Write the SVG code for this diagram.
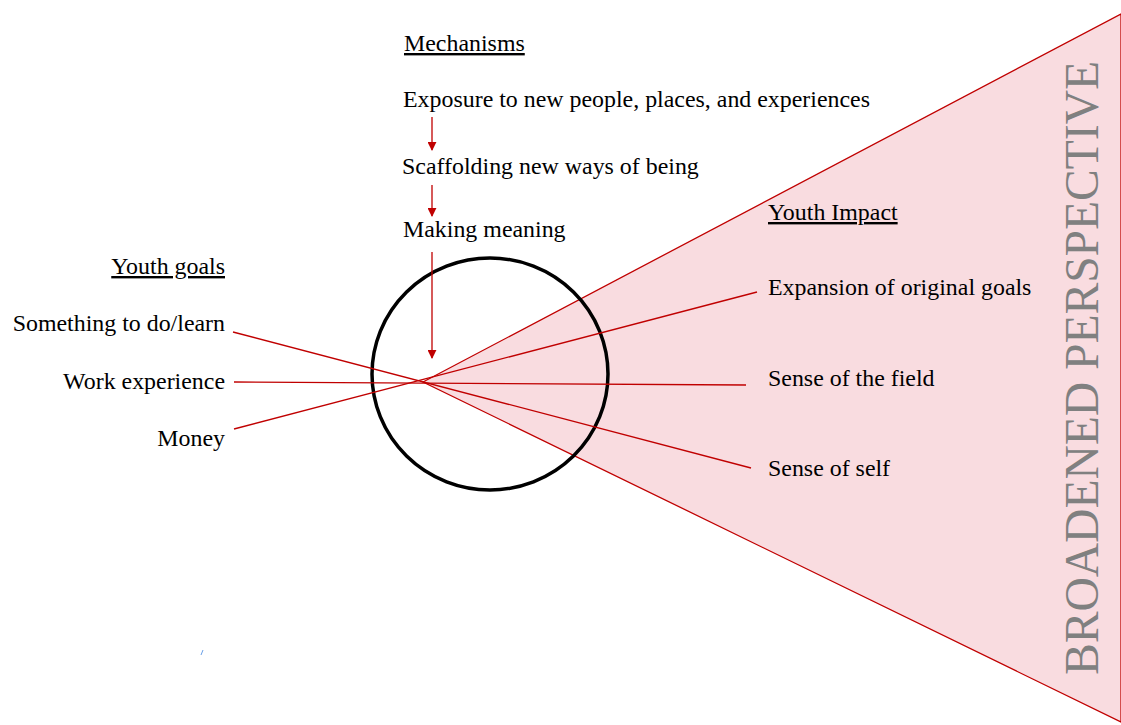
<svg xmlns="http://www.w3.org/2000/svg" width="1121" height="725" viewBox="0 0 1121 725">
<style>
text{font-family:"Liberation Serif","Times New Roman",serif;font-size:23.9px;fill:#000}
.u{text-decoration:underline}
.r{text-anchor:end}
.c{stroke:#c00000;stroke-width:1.3;fill:none}
.big{font-size:48px;fill:#808080}
</style>
<defs>
<marker id="ah" viewBox="0 0 10 10" refX="9" refY="5" markerWidth="9" markerHeight="9" markerUnits="userSpaceOnUse" orient="auto">
<path d="M0,0 L10,5 L0,10 z" fill="#c00000"/>
</marker>
</defs>
<rect width="1121" height="725" fill="#fff"/>
<g id="perspective">
<polygon points="423,382 1121,14 1121,722" fill="#f9dce0" stroke="#c00000" stroke-width="1.3"/>
<text class="big" transform="translate(1098,675) rotate(-90)" textLength="614" lengthAdjust="spacingAndGlyphs">BROADENED PERSPECTIVE</text>
</g>
<g id="circle">
<ellipse cx="490" cy="374" rx="118" ry="116" fill="none" stroke="#000" stroke-width="3.5"/>
</g>
<g id="mechanisms">
<text class="u" x="404" y="51">Mechanisms</text>
<text x="403" y="107">Exposure to new people, places, and experiences</text>
<text x="402" y="174">Scaffolding new ways of being</text>
<text x="403" y="237">Making meaning</text>
</g>
<g id="goals">
<text class="u r" x="225" y="274">Youth goals</text>
<text class="r" x="225" y="331">Something to do/learn</text>
<text class="r" x="225" y="389">Work experience</text>
<text class="r" x="225" y="446">Money</text>
</g>
<g id="impact">
<text class="u" x="768" y="220">Youth Impact</text>
<text x="768" y="295">Expansion of original goals</text>
<text x="768" y="386">Sense of the field</text>
<text x="768" y="476">Sense of self</text>
</g>
<g id="connectors">
<line class="c" x1="432" y1="117" x2="432" y2="150" marker-end="url(#ah)"/>
<line class="c" x1="432" y1="185" x2="432" y2="216" marker-end="url(#ah)"/>
<line class="c" x1="432" y1="252" x2="432" y2="358" marker-end="url(#ah)"/>
<line class="c" x1="233" y1="332" x2="751" y2="468"/>
<line class="c" x1="234" y1="382" x2="746" y2="385"/>
<line class="c" x1="234" y1="429" x2="757" y2="292"/>
</g>
<line x1="201" y1="655" x2="203" y2="650" stroke="#6aa0e8" stroke-width="1"/>
</svg>
